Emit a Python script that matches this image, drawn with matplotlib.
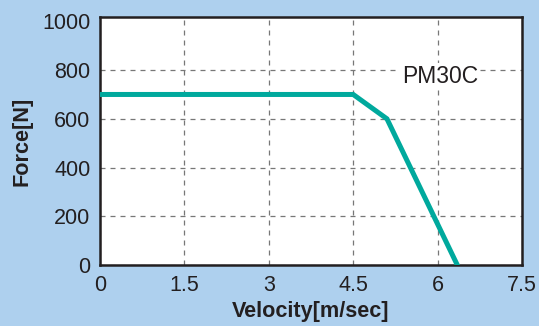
import matplotlib
matplotlib.use("Agg")
import matplotlib.pyplot as plt

# Données de la courbe force / vitesse
velocity = [0, 4.5, 5.1, 6.35]
force = [700, 700, 600, 0]
x_ticks = [0, 1.5, 3, 4.5, 6, 7.5]
x_labels = ["0", "1.5", "3", "4.5", "6", "7.5"]
y_ticks = [0, 200, 400, 600, 800, 1000]
model_name = "PM30C"

BG = "#aed0ee"
TEAL = "#00a99d"
INK = "#231f20"

plt.rcParams["font.family"] = ["Liberation Sans", "DejaVu Sans"]

fig = plt.figure(figsize=(5.39, 3.26), dpi=100)
fig.patch.set_facecolor(BG)
ax = fig.add_axes([100 / 539, 1 - 265 / 326, 422 / 539, 248 / 326])
ax.set_facecolor("white")

ax.plot(velocity, force, color=TEAL, linewidth=3.6, solid_joinstyle="miter", zorder=3)

ax.set_xlim(0, 7.5)
ax.set_ylim(0, 1018)
ax.set_xticks(x_ticks)
ax.set_xticklabels(x_labels)
ax.set_yticks(y_ticks)
ax.grid(True, color="#777777", linestyle=(0, (4, 4)), linewidth=0.9)
ax.get_ygridlines()[-1].set_visible(False)
ax.tick_params(length=0, labelsize=15.5, colors=INK, pad=7)

for spine in ax.spines.values():
    spine.set_linewidth(1.8)
    spine.set_color(INK)

ax.text(6.04, 775, model_name, fontsize=16.5, color=INK, ha="center", va="center",
        bbox=dict(facecolor="white", edgecolor="none", pad=1.5), zorder=4)

ax.set_xlabel("Velocity[m/sec]", fontsize=15.6, fontweight="bold", color=INK, labelpad=4)
ax.set_ylabel("Force[N]", fontsize=15.6, fontweight="bold", color=INK, labelpad=7)

fig.savefig("out.png", dpi=100, facecolor=fig.get_facecolor())
